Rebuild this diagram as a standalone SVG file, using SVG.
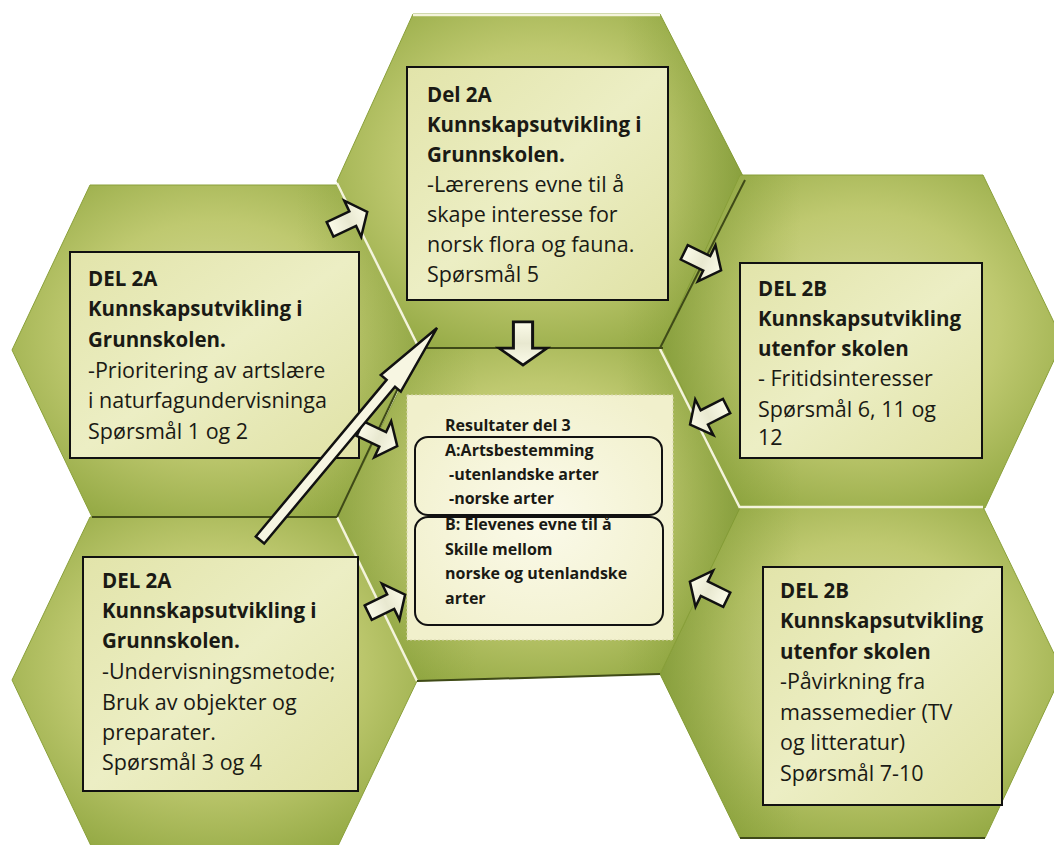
<svg xmlns="http://www.w3.org/2000/svg" width="1054" height="845" viewBox="0 0 1054 845">
<defs>
<radialGradient id="hexg" cx="50%" cy="45%" r="62%">
<stop offset="0%" stop-color="#d6da9a"/>
<stop offset="55%" stop-color="#bfc970"/>
<stop offset="100%" stop-color="#95aa45"/>
</radialGradient>
<linearGradient id="darkL" x1="0" y1="0" x2="1" y2="0">
<stop offset="0%" stop-color="#6f8c28" stop-opacity="0.55"/>
<stop offset="35%" stop-color="#7f9a32" stop-opacity="0"/>
</linearGradient>
<linearGradient id="darkR" x1="0" y1="0" x2="1" y2="0">
<stop offset="70%" stop-color="#7f9a32" stop-opacity="0"/>
<stop offset="100%" stop-color="#6f8c28" stop-opacity="0.55"/>
</linearGradient>
<linearGradient id="boxg" x1="0" y1="0" x2="1" y2="1">
<stop offset="0%" stop-color="#e2e4aa"/>
<stop offset="50%" stop-color="#eceec4"/>
<stop offset="100%" stop-color="#e0e2a6"/>
</linearGradient>
<radialGradient id="cboxg" cx="50%" cy="50%" r="60%">
<stop offset="0%" stop-color="#fbfaea"/>
<stop offset="100%" stop-color="#f1f0cc"/>
</radialGradient>
<linearGradient id="arrg" x1="0" y1="0" x2="1" y2="0">
<stop offset="0%" stop-color="#fbfbe9"/>
<stop offset="50%" stop-color="#e8e8d0"/>
<stop offset="100%" stop-color="#fbfbe9"/>
</linearGradient>
<path id="blk" d="M-22,-8 L3,-8 L3,-20 L19,0 L3,20 L3,8 L-22,8 Z"/>
</defs>
<style>
.hex{fill:url(#hexg);stroke:#8aa03a;stroke-width:1}
.box{fill:url(#boxg);stroke:#111;stroke-width:2}
.t{font-family:"Open Sans","Liberation Sans",sans-serif;font-size:21.5px;fill:#1a1a14}
.b{font-weight:bold;font-size:20.5px}
.c{font-family:"Open Sans","Liberation Sans",sans-serif;font-size:16px;font-weight:bold;fill:#1a1a14}
.arr{fill:url(#arrg);stroke:#111;stroke-width:2.5;stroke-linejoin:miter}
.wl{stroke:#f4f4dc;stroke-width:2.5;fill:none}
.dl{stroke:#3f4a18;stroke-width:2;fill:none}
</style>
<rect width="1054" height="845" fill="#ffffff"/>

<g id="hex-top">
<polygon class="hex" points="413,14 660,14 745,180 663,348 420,348 337,181"/>
<polygon points="413,14 660,14 745,180 663,348 420,348 337,181" fill="url(#darkR)"/>
</g>
<g id="hex-left">
<polygon class="hex" points="90,185 337,185 418,346 337,517 92,517 12,350"/>
<polygon points="90,185 337,185 418,346 337,517 92,517 12,350" fill="url(#darkR)" opacity="0.6"/>
</g>
<g id="hex-right">
<polygon class="hex" points="740,175 983,175 1063,341 985,508 740,508 660,348"/>
<polygon points="740,175 983,175 1063,341 985,508 740,508 660,348" fill="url(#darkL)"/>
</g>
<g id="hex-bottom-left">
<polygon class="hex" points="90,517 337,517 417,681 337,848 92,848 12,680"/>
</g>
<g id="hex-bottom-right">
<polygon class="hex" points="740,507 983,507 1063,672 985,838 740,838 660,674"/>
<polygon points="740,507 983,507 1063,672 985,838 740,838 660,674" fill="url(#darkL)"/>
</g>
<g id="hex-center">
<polygon class="hex" points="420,348 663,348 740,508 660,674 417,681 337,517"/>
<polygon points="420,348 663,348 740,508 660,674 417,681 337,517" fill="url(#darkR)"/>
<polygon points="420,348 663,348 740,508 660,674 417,681 337,517" fill="url(#darkL)" opacity="0.7"/>
</g>

<g id="edges">
<line class="wl" x1="413" y1="15" x2="660" y2="15"/>
<line class="wl" x1="337" y1="183" x2="418" y2="346"/>
<line class="wl" x1="337" y1="517" x2="417" y2="681"/>
<line class="wl" x1="660" y1="349" x2="740" y2="508" stroke="#e6e6a8"/>
<line class="wl" x1="740" y1="507" x2="983" y2="507"/>
<line class="dl" x1="420" y1="348" x2="663" y2="348"/>
<line class="dl" x1="745" y1="180" x2="660" y2="348"/>
<line class="dl" x1="418" y1="346" x2="337" y2="517" stroke-width="1.2"/>
<line class="dl" x1="417" y1="681" x2="660" y2="674"/>
<line class="dl" x1="740" y1="838" x2="985" y2="838"/>
<line class="dl" x1="92" y1="517" x2="337" y2="517" stroke="#6f8430" stroke-width="1.2"/>
</g>

<g id="box-top">
<rect class="box" x="407" y="67" width="261" height="233"/>
<text class="t"><tspan class="b" x="427" y="102">Del 2A</tspan><tspan class="b" x="427" y="132">Kunnskapsutvikling i</tspan><tspan class="b" x="427" y="162">Grunnskolen.</tspan><tspan x="427" y="192">-Lærerens evne til å</tspan><tspan x="427" y="222">skape interesse for</tspan><tspan x="427" y="252">norsk flora og fauna.</tspan><tspan x="427" y="282">Spørsmål 5</tspan></text>
</g>
<g id="box-left">
<rect class="box" x="70" y="252" width="289" height="206"/>
<text class="t"><tspan class="b" x="88" y="286">DEL 2A</tspan><tspan class="b" x="88" y="316">Kunnskapsutvikling i</tspan><tspan class="b" x="88" y="347">Grunnskolen.</tspan><tspan x="88" y="378">-Prioritering av artslære</tspan><tspan x="88" y="408">i naturfagundervisninga</tspan><tspan x="88" y="439">Spørsmål 1 og 2</tspan></text>
</g>
<g id="box-right">
<rect class="box" x="740" y="263" width="242" height="195"/>
<text class="t"><tspan class="b" x="758" y="296">DEL 2B</tspan><tspan class="b" x="758" y="326">Kunnskapsutvikling</tspan><tspan class="b" x="758" y="356">utenfor skolen</tspan><tspan x="758" y="386">- Fritidsinteresser</tspan><tspan x="758" y="417">Spørsmål 6, 11 og</tspan><tspan x="758" y="445">12</tspan></text>
</g>
<g id="box-bottom-left">
<rect class="box" x="83" y="557" width="275" height="234"/>
<text class="t"><tspan class="b" x="102" y="588">DEL 2A</tspan><tspan class="b" x="102" y="618">Kunnskapsutvikling i</tspan><tspan class="b" x="102" y="648">Grunnskolen.</tspan><tspan x="102" y="679">-Undervisningsmetode;</tspan><tspan x="102" y="710">Bruk av objekter og</tspan><tspan x="102" y="740">preparater.</tspan><tspan x="102" y="770">Spørsmål 3 og 4</tspan></text>
</g>
<g id="box-bottom-right">
<rect class="box" x="763" y="567" width="239" height="238"/>
<text class="t"><tspan class="b" x="780" y="598">DEL 2B</tspan><tspan class="b" x="780" y="628">Kunnskapsutvikling</tspan><tspan class="b" x="780" y="659">utenfor skolen</tspan><tspan x="780" y="689">-Påvirkning fra</tspan><tspan x="780" y="720">massemedier (TV</tspan><tspan x="780" y="750">og litteratur)</tspan><tspan x="780" y="781">Spørsmål 7-10</tspan></text>
</g>
<g id="box-center">
<rect x="407" y="395" width="266" height="245" fill="url(#cboxg)" stroke="#d8d6b0" stroke-width="1" stroke-dasharray="2,2"/>
<rect x="415" y="437" width="247" height="78" rx="13" fill="none" stroke="#111" stroke-width="2"/>
<rect x="415" y="517" width="248" height="108" rx="13" fill="none" stroke="#111" stroke-width="2"/>
<text class="c"><tspan x="445" y="431">Resultater del 3</tspan><tspan x="445" y="456">A:Artsbestemming</tspan><tspan x="449" y="480">-utenlandske arter</tspan><tspan x="449" y="504">-norske arter</tspan><tspan x="445" y="530">B: Elevenes evne til å</tspan><tspan x="445" y="555">Skille mellom</tspan><tspan x="445" y="579">norske og utenlandske</tspan><tspan x="445" y="604">arter</tspan></text>
</g>

<g id="connectors">
<use href="#blk" class="arr" transform="translate(350,220) rotate(-25)"/>
<use href="#blk" class="arr" transform="translate(704,262) rotate(26)"/>
<use href="#blk" class="arr" transform="translate(523,345) rotate(90) scale(1.05,1.2)"/>
<use href="#blk" class="arr" transform="translate(707,416) rotate(153)"/>
<use href="#blk" class="arr" transform="translate(380,438) rotate(25)"/>
<use href="#blk" class="arr" transform="translate(388,603) rotate(-26)"/>
<use href="#blk" class="arr" transform="translate(707,590) rotate(-154)"/>
<polygon class="arr" points="255.8,536.5 386.6,379.8 380.8,375 437,328 400.8,391.6 395,386.8 264.2,543.5" style="fill:#f7f6e2"/>
</g>
</svg>
